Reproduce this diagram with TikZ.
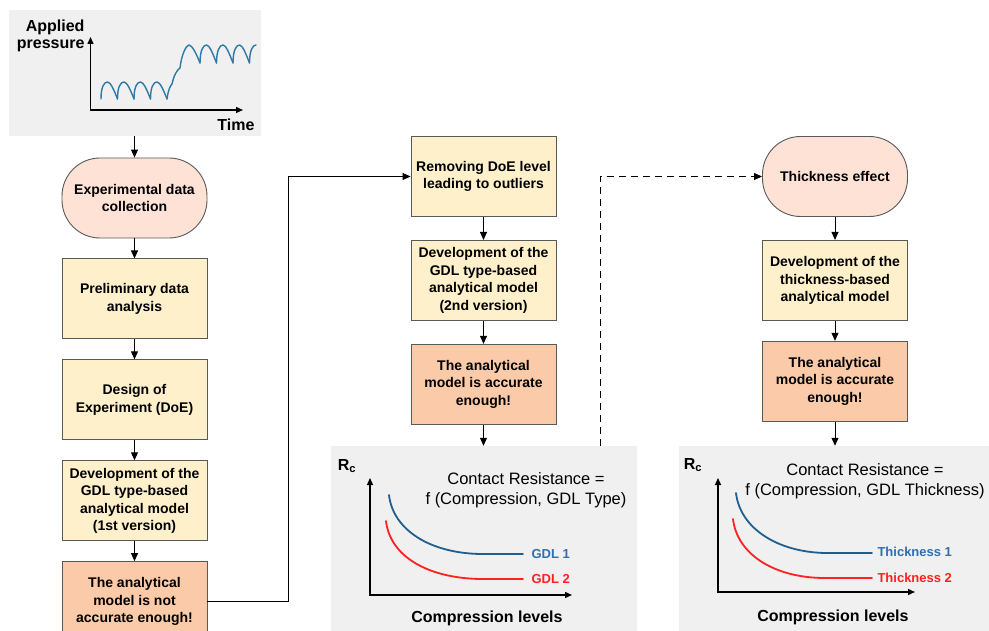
\documentclass[tikz,border=0pt]{standalone}
\usepackage{fontspec}
\setmainfont{Liberation Sans}
\usetikzlibrary{arrows.meta,positioning}

\definecolor{panelgray}{HTML}{F0F0F0}
\definecolor{termpink}{HTML}{FDE2D5}
\definecolor{stepyellow}{HTML}{FEF0CA}
\definecolor{resultorange}{HTML}{FBCAA8}
\definecolor{edgegray}{HTML}{595959}
\definecolor{waveblue}{HTML}{2E78A6}
\definecolor{curveblue}{HTML}{1F5F8F}
\definecolor{labelblue}{HTML}{2F6FB0}
\definecolor{curvered}{HTML}{FF2020}

\tikzset{
  box/.style={draw=edgegray, line width=0.9pt, minimum width=145pt, minimum height=80pt,
    align=center, inner sep=2pt, font=\bfseries\fontsize{14}{17.5}\selectfont},
  terminal/.style={box, fill=termpink, rounded corners=38pt},
  stepbox/.style={box, fill=stepyellow},
  resultbox/.style={box, fill=resultorange},
  panel/.style={fill=panelgray, inner sep=0pt},
  axis/.style={line width=1.3pt, {Triangle[length=7pt,width=6pt]}-{Triangle[length=7pt,width=6pt]}},
  link/.style={line width=1pt, -{Triangle[length=8pt,width=7pt]}},
  wave/.style={waveblue, line width=1.4pt, line cap=round, line join=round},
  curve/.style={line width=1.8pt, line cap=round},
  plotlabel/.style={font=\bfseries\fontsize{16}{17}\selectfont},
  curvelabel/.style={anchor=west, font=\bfseries\fontsize{13}{15}\selectfont},
  lawlabel/.style={align=center, font=\fontsize{16.5}{19.5}\selectfont},
}

\begin{document}
\begin{tikzpicture}[x=1pt, y=-1pt, node distance=20pt]
\useasboundingbox (0,0) rectangle (989,631);

% grey panels
\node[panel, minimum width=252pt, minimum height=126pt] (pressure) at (134.5,73) {};
\node[panel, minimum width=306pt, minimum height=185pt] (typeplot) at (483.5,538.5) {};
\node[panel, minimum width=312pt, minimum height=185pt] (thickplot) at (835,538.5) {};

% first column
\node[terminal] (collect) at (134.5,198) {Experimental data\\collection};
\node[stepbox, below= of collect] (prelim) {Preliminary data\\analysis};
\node[stepbox, below= of prelim] (doe) {Design of\\Experiment (DoE)};
\node[stepbox, below= of doe] (model1) {Development of the\\GDL type-based\\analytical model\\(1st version)};
\node[resultbox, below= of model1] (notok) {The analytical\\model is not\\accurate enough!};

% second column
\node[stepbox] (outliers) at (483.5,176.5) {Removing DoE level\\leading to outliers};
\node[stepbox, below=23pt of outliers] (model2) {Development of the\\GDL type-based\\analytical model\\(2nd version)};
\node[resultbox, below=23pt of model2] (ok2) {The analytical\\model is accurate\\enough!};

% third column
\node[terminal] (thick) at (835,176.5) {Thickness effect};
\node[stepbox, below=23pt of thick] (model3) {Development of the\\thickness-based\\analytical model};
\node[resultbox, below=20pt of model3] (ok3) {The analytical\\model is accurate\\enough!};

\path[link]
  (pressure) edge (collect)
  (collect) edge (prelim)
  (prelim) edge (doe)
  (doe) edge (model1)
  (model1) edge (notok)
  (outliers) edge (model2)
  (model2) edge (ok2)
  (ok2) edge (typeplot)
  (thick) edge (model3)
  (model3) edge (ok3)
  (ok3) edge (thickplot);

\draw[link] (notok.east) -- ++(81,0) |- (outliers.west);
\coordinate (dashfoot) at (600,446);
\draw[link, dash pattern=on 7pt off 5pt] (dashfoot) |- (thick.west);

% applied pressure sketch
\node[plotlabel, align=right, anchor=east] (ylabel) at (88,35.5) {Applied\\pressure};
\node[plotlabel] (tlabel) at (236,125) {Time};
\draw[axis] (90.5,37) |- (243,110);
\foreach \c in {101,117.5,134,150.5}
  \draw[wave] (\c,99) .. controls +(0,-12) and +(-3.5,0) .. (\c+6.5,82)
    .. controls +(3,0) and +(-3.5,-9) .. (\c+16.5,99);
\draw[wave] (167,99) .. controls +(1,-8) and +(-2,2) .. (172,84)
  .. controls +(2,-9) and +(-3,2) .. (180,68)
  .. controls +(1.5,-14) and +(-2.5,0) .. (189,45)
  .. controls +(3,0) and +(-3.5,-9) .. (200,63);
\foreach \c in {200,216.5,233}
  \draw[wave] (\c,63) .. controls +(0,-12) and +(-3.5,0) .. (\c+6.5,45)
    .. controls +(3,0) and +(-3.5,-9) .. (\c+16.5,63);
\draw[wave] (249.5,63) .. controls +(0,-12) and +(-3.5,0) .. (256,45);

% GDL type plot
\node[plotlabel] (rctype) at (347,466) {R\textsubscript{c}};
\node[lawlabel] (lawtype) at (526,490) {Contact Resistance =\\f (Compression, GDL Type)};
\draw[axis] (370,478) |- (572,595);
\draw[curve, curveblue] (389,495) .. controls (393,530) and (430,553) .. (480,554) -- (523,554);
\draw[curve, curvered] (386,521) .. controls (390,556) and (427,578) .. (480,579) -- (523,579);
\node[curvelabel, labelblue] (gdlone) at (528,554) {GDL 1};
\node[curvelabel, curvered] (gdltwo) at (528,579) {GDL 2};
\node[plotlabel] (xtype) at (487,618) {Compression levels};

% thickness plot
\node[plotlabel] (rcthick) at (693,465) {R\textsubscript{c}};
\node[lawlabel] (lawthick) at (865,481) {Contact Resistance =\\f (Compression, GDL Thickness)};
\draw[axis] (718,478) |- (915,592);
\draw[curve, curveblue] (736,493) .. controls (740,528) and (777,552) .. (825,553) -- (872,553);
\draw[curve, curvered] (733,519) .. controls (737,554) and (774,578) .. (825,578) -- (872,578);
\node[curvelabel, labelblue] (thickone) at (874,552) {Thickness 1};
\node[curvelabel, curvered] (thicktwo) at (874,578) {Thickness 2};
\node[plotlabel] (xthick) at (833,617) {Compression levels};
\end{tikzpicture}
\end{document}
